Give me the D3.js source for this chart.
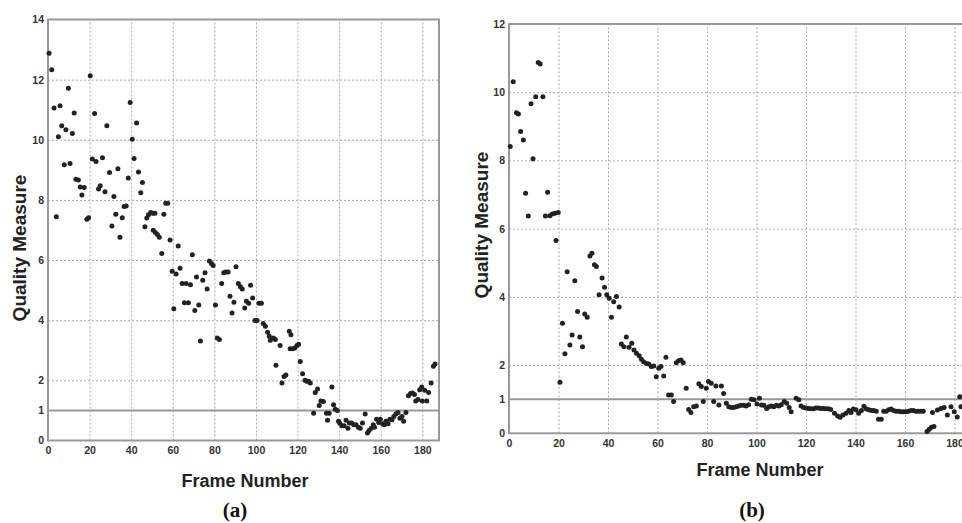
<!DOCTYPE html>
<html lang="en">
<head>
<meta charset="UTF-8">
<script src="https://d3js.org/d3.v7.min.js"></script>
<title>Quality Measure vs Frame Number</title>
<style>
  body { margin: 0; background: #fff; }
  svg { display: block; }
  .tick text { font-family: "Liberation Sans", Arial, sans-serif; font-weight: bold; font-size: 10.5px; fill: #333; }
  .lbl { font-family: "Liberation Sans", Arial, sans-serif; font-weight: bold; fill: #222; }
  .cap { font-family: "Liberation Serif", "Times New Roman", serif; font-weight: bold; font-size: 21px; fill: #111; }
</style>
</head>
<body>
<svg width="962" height="523"></svg>
<script>
// panel (a)
var framesA = [0.5,1.8,2.9,4,5,5.8,6.6,7.8,8.6,9.8,10.6,11.7,12.6,13.4,14.6,15.5,16.3,17.4,18.7,19.5,
  20.3,21.3,22.4,23.1,24.3,25.1,26.2,27.4,28.3,29.6,30.7,31.7,32.6,33.6,34.6,35.7,36.6,37.6,38.6,39.5,
  40.5,41.4,42.6,43.5,44.6,45.4,46.6,47.5,48.3,49.4,50.4,51.4,50.6,51.6,52.6,53.5,54.7,55.7,56.6,57.6,
  58.7,59.7,60.5,61.6,62.6,63.5,64.5,65.6,66.4,67.5,68.5,69.4,70.6,71.4,72.5,73.3,74.4,75.5,76.5,77.6,
  78.6,79.4,80.5,81.4,82.4,83.5,84.5,85.4,86.6,87.5,88.5,89.4,90.4,91.5,92.5,93.4,94.6,95.4,96.5,97.4,
  98.4,99.5,100.5,101.4,102.6,103.5,104.5,105.6,106.4,106.9,108.4,109.3,109.6,111.6,112.5,113.5,114.4,116,116.8,116.4,
  117.6,118.7,119.7,120.5,121.3,122.4,123.6,124.4,125.3,126.1,127.7,128.5,129.6,130.4,131.2,132.4,133.9,134.4,135.2,136.5,
  137.3,138.1,139.1,139.7,140.3,141.3,142.4,143.3,144.2,144.9,146,147,148.1,149.2,150.1,151.2,152.5,153.6,154.4,155.4,
  156.4,157,158,159,159.8,160.9,161.7,162.5,163.5,164.4,165.4,166.3,167.3,168.3,169.2,170.2,171,172.1,173.3,174.3,
  175.2,176.2,176.8,177.9,178.7,179.7,180,181.1,182.1,183,184.2,185.3,186.1];
var valuesA = [12.88,12.33,11.06,7.44,10.1,11.13,10.47,9.17,10.33,11.71,9.21,10.21,10.89,8.69,8.66,8.43,8.16,8.41,7.36,7.41,
  12.13,9.36,10.87,9.28,8.36,8.47,9.4,8.27,10.47,8.91,7.13,8.11,7.52,9.04,6.76,7.41,7.78,7.8,8.73,11.24,
  10.02,9.38,10.56,8.93,8.24,8.58,7.11,7.4,7.51,7.58,7.56,7.56,6.99,6.92,6.85,6.76,6.22,7.52,7.89,7.89,
  6.67,5.63,4.38,5.54,6.47,5.73,5.22,4.58,5.22,4.58,5.18,6.18,4.32,5.44,4.51,3.31,5.33,5.58,5.04,5.97,
  5.89,5.82,4.51,3.41,3.36,5.22,5.58,5.6,5.6,4.8,4.24,4.6,5.78,5.22,5.11,5.04,4.41,4.63,4.56,5.16,
  4.74,3.99,3.99,4.56,4.56,3.89,3.8,3.6,3.47,3.33,3.41,3.36,2.5,3.16,1.91,2.13,2.18,3.63,3.52,3.05,
  3.05,3.08,3.16,3.2,2.63,2.22,2.0,1.97,1.97,1.91,0.91,1.6,1.71,1.16,1.31,1.3,0.91,0.67,0.91,1.78,
  1.19,1.04,1.0,0.64,0.57,0.49,0.49,0.67,0.41,0.58,0.58,0.52,0.52,0.44,0.41,0.58,0.88,0.25,0.33,0.41,
  0.52,0.44,0.71,0.6,0.71,0.56,0.52,0.64,0.56,0.71,0.69,0.8,0.89,0.93,0.74,0.8,0.64,0.93,1.49,1.56,
  1.58,1.53,1.31,1.36,1.69,1.78,1.31,1.67,1.31,1.6,1.91,2.47,2.54];

// panel (b)
var framesB = [0.5,1.7,3,3.8,4.7,5.8,6.7,7.8,8.9,9.7,10.8,11.8,12.6,13.7,14.7,15.6,16.5,17.5,18.5,19,
  19.9,20.6,21.6,22.6,23.5,24.6,25.5,26.6,27.7,28.6,29.7,30.6,31.6,32.7,33.5,34.5,35.3,36.4,37.6,38.6,
  39.5,40.5,41.4,42.3,43.4,44.5,45.4,46.4,47.4,48.5,49.6,50.5,51.5,52.6,53.5,54.4,55.5,56.5,57.5,58.5,
  59.5,60.5,61.4,62.5,63.4,64.5,65.6,66.5,67.6,68.5,69.5,70.4,71.6,72.6,73.5,74.6,75.7,76.7,77.7,78.5,
  79.7,80.6,81.7,82.7,83.6,84.8,85.8,86.7,87.8,88.8,89.8,90.8,91.8,92.8,93.8,94.8,95.8,96.8,97.9,99,
  100.2,101.2,102,103,104.1,105,106,107,108,109,110,111.2,112.2,113.2,114,116,117.1,118,119,120,
  121,122,123,124,125,126,127,128,129,130,131.5,132.8,133.8,134.9,136.2,137.3,138.2,139.1,140.2,141.3,
  142.4,143.4,144.4,145.4,146.4,147.4,148.4,149.3,150.4,151.4,152.4,153.4,154.4,155.4,156.4,157.4,158.4,159.4,160.4,161.4,
  162.4,163.4,164.4,165.4,166.4,167.4,168.9,169.8,170.7,171.7,171.1,173.1,174.5,175.8,177.1,178.6,179.9,181.1,182.1,182.6];
var valuesB = [8.41,10.31,9.4,9.36,8.85,8.6,7.04,6.37,9.66,8.05,9.87,10.87,10.83,9.87,6.37,7.07,6.38,6.43,6.45,5.65,
  6.47,1.5,3.23,2.33,4.74,2.59,2.88,4.47,3.57,2.82,2.54,3.5,3.4,5.2,5.28,4.94,4.89,4.06,4.55,4.28,
  4.06,3.96,3.4,3.86,4.01,3.7,2.62,2.54,2.82,2.52,2.64,2.44,2.35,2.27,2.17,2.1,2.05,2.03,1.96,1.97,
  1.66,1.91,1.96,1.68,2.23,1.12,1.12,0.93,2.07,2.13,2.15,2.07,1.32,0.7,0.61,0.78,0.8,1.45,1.37,0.93,
  1.32,1.52,1.47,0.93,1.39,0.83,1.39,1.17,0.88,0.78,0.76,0.76,0.78,0.8,0.82,0.82,0.8,0.84,1.0,0.98,
  0.86,1.03,0.83,0.82,0.73,0.78,0.8,0.78,0.82,0.8,0.84,0.93,0.88,0.76,0.63,1.03,0.98,0.8,0.76,0.74,
  0.73,0.72,0.72,0.74,0.74,0.73,0.73,0.72,0.72,0.7,0.59,0.51,0.47,0.54,0.59,0.67,0.61,0.71,0.69,0.59,
  0.67,0.79,0.71,0.69,0.67,0.67,0.65,0.41,0.41,0.65,0.65,0.69,0.71,0.67,0.65,0.65,0.63,0.63,0.63,0.65,
  0.67,0.67,0.65,0.65,0.65,0.65,0.05,0.12,0.18,0.2,0.61,0.68,0.73,0.76,0.54,0.78,0.63,0.48,1.07,0.78];

var xTicks = [0,20,40,60,80,100,120,140,160,180];
var yTicksA = [0,1,2,4,6,8,10,12,14];
var yTicksB = [0,1,2,4,6,8,10,12];
var threshold = 1;

var svg = d3.select("svg");

function drawPanel(p) {
  var x = d3.scaleLinear().domain(p.xDomain).range([p.left, p.right]);
  var y = d3.scaleLinear().domain(p.yDomain).range([p.bottom, p.top]);
  var g = svg.append("g");

  // dotted grid
  g.append("g")
    .attr("transform", "translate(0," + p.bottom + ")")
    .call(d3.axisBottom(x).tickValues(xTicks.filter(d => d > 0)).tickSize(-(p.bottom - p.top)).tickFormat(""))
    .call(a => a.select(".domain").remove())
    .selectAll("line").attr("stroke", "#aaa").attr("stroke-dasharray", "2,2");
  g.append("g")
    .attr("transform", "translate(" + p.left + ",0)")
    .call(d3.axisLeft(y).tickValues(p.yTicks.filter(d => d > 1 && d < p.yDomain[1])).tickSize(-(p.right - p.left)).tickFormat(""))
    .call(a => a.select(".domain").remove())
    .selectAll("line").attr("stroke", "#aaa").attr("stroke-dasharray", "2,2");

  // threshold line
  g.append("line")
    .attr("x1", x(p.xDomain[0])).attr("x2", x(p.xDomain[1]))
    .attr("y1", y(threshold)).attr("y2", y(threshold))
    .attr("stroke", "#999").attr("stroke-width", 2);

  // box
  g.append("rect")
    .attr("x", p.left).attr("y", p.top)
    .attr("width", p.right - p.left).attr("height", p.bottom - p.top)
    .attr("fill", "none").attr("stroke", "#999").attr("stroke-width", 2);

  // tick labels
  g.append("g")
    .attr("transform", "translate(0," + p.bottom + ")")
    .call(d3.axisBottom(x).tickValues(xTicks).tickSize(0).tickPadding(6))
    .call(a => a.select(".domain").remove());
  g.append("g")
    .attr("transform", "translate(" + p.left + ",0)")
    .call(d3.axisLeft(y).tickValues(p.yTicks).tickSize(0).tickPadding(4))
    .call(a => a.select(".domain").remove());

  // points
  g.append("g").selectAll("circle")
    .data(p.frames)
    .enter()
    .append("circle")
    .attr("cx", d => x(d))
    .attr("cy", (d, i) => y(p.values[i]))
    .attr("r", 2.5)
    .attr("fill", "#222");

  // axis labels
  g.append("text").attr("class", "lbl")
    .attr("transform", "translate(" + p.yLabelX + "," + p.yLabelY + ") rotate(-90)")
    .attr("text-anchor", "middle").attr("font-size", "19px")
    .text("Quality Measure");
  g.append("text").attr("class", "lbl")
    .attr("x", p.xLabelX).attr("y", p.xLabelY)
    .attr("text-anchor", "middle").attr("font-size", "18px")
    .text("Frame Number");
  g.append("text").attr("class", "cap")
    .attr("x", p.capX).attr("y", 517)
    .attr("text-anchor", "middle")
    .text(p.caption);
}

drawPanel({
  frames: framesA, values: valuesA, yTicks: yTicksA,
  xDomain: [0, 188], yDomain: [0, 14],
  left: 48, right: 439, top: 19.5, bottom: 440.5,
  yLabelX: 26, yLabelY: 248, xLabelX: 245, xLabelY: 487,
  capX: 235, caption: "(a)"
});

drawPanel({
  frames: framesB, values: valuesB, yTicks: yTicksB,
  xDomain: [0, 190], yDomain: [0, 12],
  left: 509, right: 509 + 190 * 2.475, top: 24, bottom: 433.3,
  yLabelX: 488, yLabelY: 225, xLabelX: 760, xLabelY: 476,
  capX: 752, caption: "(b)"
});
</script>
</body>
</html>
